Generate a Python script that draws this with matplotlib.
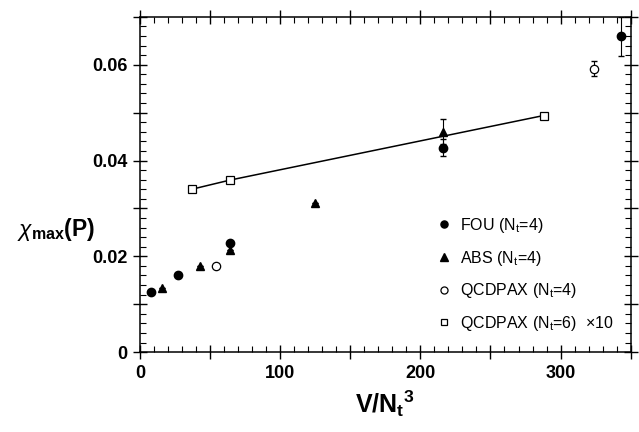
import matplotlib
matplotlib.use("Agg")
import matplotlib.pyplot as plt
from matplotlib.ticker import MultipleLocator

plt.rcParams["font.family"] = ["Liberation Sans", "DejaVu Sans"]
plt.rcParams["mathtext.fontset"] = "custom"
plt.rcParams["mathtext.rm"] = "Liberation Sans"
plt.rcParams["mathtext.it"] = "Liberation Sans:italic"
plt.rcParams["mathtext.bf"] = "Liberation Sans:bold"

# FOU (Nt=4)
fou_x = [8, 27, 64, 216, 343]
fou_y = [0.0125, 0.0160, 0.0227, 0.0427, 0.0659]
fou_err = [0.0, 0.0, 0.0, 0.0018, 0.0041]

# ABS (Nt=4)
abs_x = [16, 43, 64, 125, 216]
abs_y = [0.0133, 0.0179, 0.0213, 0.0312, 0.0460]
abs_err = [0.0, 0.0, 0.0, 0.0, 0.0026]

# QCDPAX (Nt=4)
q4_x = [54, 324]
q4_y = [0.0179, 0.0592]
q4_err = [0.0, 0.0015]

# QCDPAX (Nt=6) x10
q6_x = [37, 64, 288]
q6_y = [0.0340, 0.0359, 0.0494]

fig = plt.figure(figsize=(6.39, 4.32), dpi=100)
ax = fig.add_axes([0.219, 0.185, 0.768, 0.776])

ax.plot(q6_x, q6_y, color="black", lw=1.1, zorder=1)

# error bars (no legend entries)
ax.errorbar(fou_x, fou_y, yerr=fou_err, fmt="none", ecolor="black",
            elinewidth=0.8, capsize=2, zorder=2)
ax.errorbar(abs_x, abs_y, yerr=abs_err, fmt="none", ecolor="black",
            elinewidth=0.8, capsize=2, zorder=2)
ax.errorbar(q4_x, q4_y, yerr=q4_err, fmt="none", ecolor="black",
            elinewidth=0.8, capsize=2, zorder=2)

h1, = ax.plot(fou_x, fou_y, "o", color="black", ms=6, ls="none", zorder=4)
h2, = ax.plot(abs_x, abs_y, "^", color="black", ms=6, ls="none", zorder=4)
h3, = ax.plot(q4_x, q4_y, "o", mfc="white", mec="black", ms=6, mew=0.9,
              ls="none", zorder=4)
h4, = ax.plot(q6_x, q6_y, "s", mfc="white", mec="black", ms=5.5, mew=0.9,
              ls="none", zorder=3)

ax.set_xlim(0, 350)
ax.set_ylim(0, 0.07)

ax.xaxis.set_minor_locator(MultipleLocator(10))
ax.yaxis.set_minor_locator(MultipleLocator(0.002))
ax.set_xticks([0, 50, 100, 150, 200, 250, 300, 350])
ax.set_xticklabels(["0", "", "100", "", "200", "", "300", ""])
ax.set_yticks([0, 0.01, 0.02, 0.03, 0.04, 0.05, 0.06, 0.07])
ax.set_yticklabels(["0", "", "0.02", "", "0.04", "", "0.06", ""])

ax.tick_params(which="major", direction="inout", length=10, width=1,
               top=True, right=True, labelsize=13, pad=4)
ax.tick_params(which="minor", direction="in", length=4, width=0.8,
               top=True, right=True)
for lab in ax.get_xticklabels() + ax.get_yticklabels():
    lab.set_fontweight("bold")
for sp in ax.spines.values():
    sp.set_linewidth(1.1)

ax.set_xlabel(r"$\mathbf{V/N_t}$$^\mathbf{3}$", fontsize=18, labelpad=5)
ax.set_ylabel(r"$\chi_\mathbf{max}$$\mathbf{(P)}$", fontsize=16.5,
              rotation=0, va="center", ha="center")
ax.yaxis.set_label_coords(-0.17, 0.365)

ax.legend([h1, h2, h3, h4],
          [r"FOU (N$_\mathrm{t}$=4)", r"ABS (N$_\mathrm{t}$=4)",
           r"QCDPAX (N$_\mathrm{t}$=4)",
           "QCDPAX (N$_\\mathrm{t}$=6)  \u00d710"],
          loc="lower right", bbox_to_anchor=(0.995, 0.015), frameon=False,
          fontsize=11.5, handletextpad=0.5, labelspacing=0.85,
          handlelength=1.0, markerscale=0.85)

fig.savefig("out.png", dpi=100)
